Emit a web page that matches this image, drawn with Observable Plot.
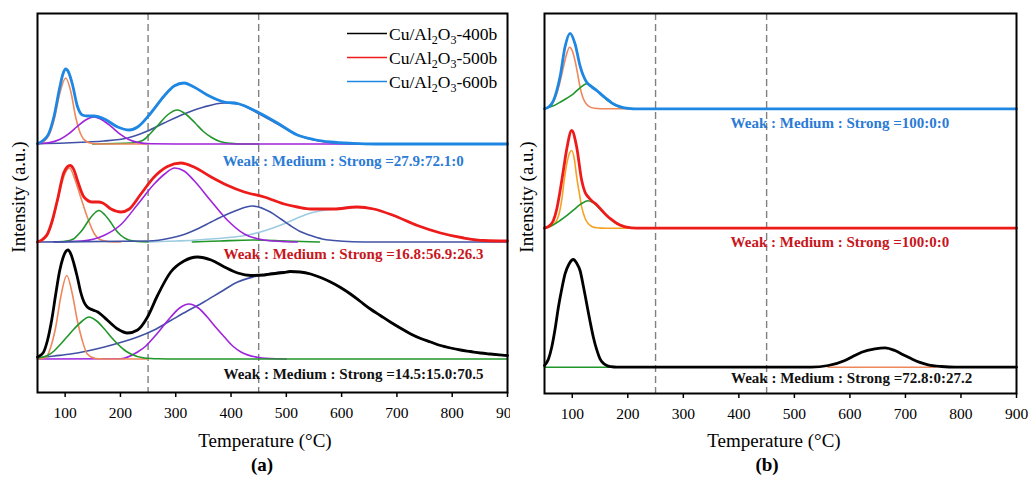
<!DOCTYPE html>
<html><head><meta charset="utf-8">
<script src="https://cdn.jsdelivr.net/npm/d3@7"></script>
<script src="https://cdn.jsdelivr.net/npm/@observablehq/plot@0.6"></script>
<style>
body{margin:0;background:#fff;}
#wrap{position:relative;width:1030px;height:477px;overflow:hidden;background:#fff;}
.panel{position:absolute;top:0;}
</style></head><body>
<div id="wrap"><div id="pa" class="panel" style="left:0px"></div><div id="pb" class="panel" style="left:510px"></div></div>
<script>
// ---------- tick values ----------
const xTicks = [100, 200, 300, 400, 500, 600, 700, 800, 900];
const dashTemps = [250, 450];

// ---------- panel (a): Cu/Al2O3-600b (blue) ----------
const a600Total = [[50,0.3],[60,3.5],[70,10],[80,28],[90,56],[96,70],[101,75],[106,72],[113,60],[122,38],[131,29],[140,28],[152,28],[171,25],[195,17],[216,14],[231,17],[255,31],[279,48],[297,58],[315,61],[333,57],[357,49],[388,42],[412,40.5],[448,32],[484,21],[520,9],[550,4.5],[580,2],[620,0.6],[660,0],[900,0]];
const a600Orange = [[50,0],[60,2],[70,8],[80,24],[90,50],[101,66],[110,53],[119,27],[128,10],[137,3],[150,0.5],[165,0],[250,0]];
const a600Purple = [[50,0.2],[70,1.2],[90,4.5],[105,9.6],[122,17.6],[137,24],[152,27],[167,24],[183,17.6],[200,9.6],[215,4.5],[231,1.6],[255,0.2],[300,0],[900,0]];
const a600Green = [[150,0],[220,1],[240,3.5],[255,11],[270,20],[285,29],[303,34],[320,29],[335,21],[350,12.5],[365,6.5],[380,2.5],[400,0.6],[420,0],[450,0]];
const a600Navy = [[50,0.3],[100,1],[140,2],[170,3],[213,6],[249,13],[279,21],[315,30],[351,37],[388,41],[412,40],[448,31],[484,20],[520,9],[550,4],[580,1.5],[620,0.4],[660,0]];

// ---------- panel (a): Cu/Al2O3-500b (red) ----------
const a500Total = [[50,0],[60,3],[68,8],[77,22],[86,42],[98,70],[109,76.5],[116,72],[122,62],[134,45],[149,40],[160,40],[168,39],[183,33],[201,30],[216,33],[237,48],[261,65],[285,75.5],[309,79],[333,75],[364,65],[394,56.5],[424,50],[460,45],[496,38],[520,35],[544,33],[586,33],[628,35],[658,33],[694,26.5],[737,16.5],[779,9],[821,4],[857,1.5],[900,1]];
const a500Orange = [[50,0],[60,2],[68,7],[77,20],[86,40],[98,66],[108,74],[118,62],[128,45],[140,25],[152,9],[165,2],[180,0.3],[200,0]];
const a500Green = [[80,0],[100,0.6],[115,3],[122,6.5],[131,12],[140,19.5],[150,27],[161,31.5],[172,27],[182,20],[191,12.5],[201,6.5],[215,2],[230,0.5],[250,0]];
const a500Purple = [[80,0.2],[130,1],[170,6.5],[201,17.5],[231,37.5],[261,58],[280,68],[298,74],[315,71],[333,61.5],[363,41.5],[394,21.5],[424,8],[460,2],[500,0.3],[520,0]];
const a500Navy = [[50,0],[250,1],[291,4],[315,7.5],[339,13],[364,20],[388,26.5],[412,32],[438,36],[471,30],[490,23],[507,16.5],[525,10.5],[544,6.5],[565,3],[586,1.5],[620,0.3],[660,0],[900,0]];
const a500LightBlue = [[250,0],[300,1],[339,2],[375,3.5],[412,5.5],[435,7.5],[465,12],[495,18],[520,24],[544,29],[565,31.5],[586,33],[616,35],[640,34.5],[658,33],[676,30],[694,26.5],[715,21.5],[737,16.5],[758,12.5],[779,9],[800,6],[821,4],[857,1.8],[900,1]];
const a500Green2 = [[330,0],[380,1],[440,2],[500,1],[560,0]];

// ---------- panel (a): Cu/Al2O3-400b (black) ----------
const a400Total = [[50,2],[60,6],[68,18.5],[76,40],[83,65],[90,88],[96,101],[105,109],[111,104],[116,95],[122,82],[128,67],[134,57],[140,52],[150,49],[159,47],[168,43],[177,38.5],[195,30],[213,26],[231,29],[249,42],[267,63.5],[291,87],[315,98],[339,102],[364,99],[388,92],[412,86],[436,83.5],[460,84],[471,85],[496,86.5],[507,87.5],[525,87],[544,85],[562,81.5],[580,77],[598,71.5],[616,65],[634,57.5],[652,50],[670,43.5],[688,37],[706,31],[725,25],[743,20.5],[761,17],[779,13.5],[797,11],[815,9],[833,7.5],[851,6],[869,5],[885,4.2],[900,3.5]];
const a400Orange = [[50,0],[65,1.5],[74,12],[83,32],[92,62],[103,83.5],[113,65],[122,38.5],[131,18.5],[140,5],[155,0.5],[170,0],[250,0]];
const a400Green = [[50,1],[68,3.5],[80,8],[92,15],[104,22.5],[116,30],[130,37.5],[143,42],[157,38],[171,30],[183,22],[195,15],[207,9],[219,5],[243,1],[270,0.2],[300,0],[900,0]];
const a400Purple = [[50,0],[200,0.3],[231,7],[246,13],[261,22],[276,32],[291,42],[307,51],[324,55],[341,51],[357,42],[372,32],[388,22],[403,13],[418,7],[450,1.5],[480,0.2],[500,0]];
const a400Navy = [[50,1],[80,3],[110,5],[140,8],[171,12],[200,16.5],[231,22],[261,29],[291,38.5],[321,48],[351,57],[381,67],[412,77],[440,82],[466,85],[490,87],[507,87.5],[525,87],[544,85],[562,81.5],[580,77],[598,71.5],[616,65],[634,57.5],[652,50],[670,43.5],[688,37],[706,31],[725,25],[743,20.5],[761,17],[779,13.5],[797,11],[815,9],[833,7.5],[851,6],[869,5],[885,4],[900,3.5]];

// ---------- panel (b) ----------
const b600Total = [[50,0],[58,2],[66,8],[72,18],[78,32],[87,62],[96,75.5],[105,65],[114,43],[120,33],[126,26.5],[135,22],[144,18.3],[153,14],[162,10],[171,6],[180,3.3],[190,1.5],[198,0.6],[210,0],[900,0]];
const b600Orange = [[50,0],[60,2.5],[66,7],[72,15],[78,27],[84,41.5],[90,55],[95,61.5],[100,58],[105,48],[110,34],[114,21.6],[118,13],[123,6.6],[130,2.5],[140,0.6],[160,0],[200,0]];
const b600Green = [[50,0.3],[66,3],[78,6.6],[90,10.5],[102,15],[114,21],[126,25],[138,21.5],[150,15.6],[159,10.5],[168,6.6],[177,3.5],[186,1.6],[200,0.4],[215,0]];
const b500Total = [[50,0],[60,3],[66,7.7],[72,19],[78,37],[84,58],[90,79],[99,97.7],[108,81],[117,47.7],[123,36],[129,31],[136,27],[144,23.5],[153,18],[162,12.7],[171,8.5],[180,5],[190,2.3],[198,1],[215,0],[900,0]];
const b500Orange = [[50,0],[60,1.5],[66,3.5],[72,7.7],[77,16],[81,28],[86,50],[90,64],[95,75],[99,77.7],[104,68],[108,51],[113,34],[117,21],[123,10],[129,4.4],[136,1.5],[144,0.5],[160,0],[200,0]];
const b500Green = [[50,0],[66,3.5],[78,7.7],[90,12.5],[102,18],[115,24],[128,27.5],[139,25],[150,19],[159,14],[168,9.4],[180,4.5],[192,1.7],[205,0.4],[220,0]];
const b400Total = [[50,1.7],[57,8],[63,20],[69,38],[75,60],[81,78],[87,93.4],[94,103],[102,107.7],[108,104],[114,96.7],[120,81],[126,63.4],[132,46],[138,30],[144,17.5],[150,8.4],[156,4],[162,1.7],[170,0.5],[180,0],[530,0],[561,1.7],[591,6.7],[606,11],[621,15],[645,18.4],[663,19.4],[681,16.7],[696,12.5],[711,8.4],[726,4.8],[741,2.4],[765,0.7],[790,0],[900,0]];
const b400Green = [[50,0],[110,0],[168,0]];
const b400Orange = [[561,0],[660,0],[753,0]];

// ---------- baseline offsets of each sample (a.u.) ----------
const offsetsA = {"400b": 33.5, "500b": 150.5, "600b": 248.5};
const offsetsB = {"400b": 26.3, "500b": 165.3, "600b": 284.7};

// ---------- ratio annotations ----------
const ratioTextsA = ["Weak : Medium : Strong =27.9:72.1:0", "Weak : Medium : Strong =16.8:56.9:26.3", "Weak : Medium : Strong =14.5:15.0:70.5"];
const ratioTextsB = ["Weak : Medium : Strong =100:0:0", "Weak : Medium : Strong =100:0:0", "Weak : Medium : Strong =72.8:0:27.2"];
const ratioSamples = ["600b", "500b", "400b"];
const ratioTempA = [603, 621.5, 621.5];
const ratioTempB = [582, 582, 603];
const ratioIntA = [231, 138, 18];
const ratioIntB = [270, 151, 15];

// ---------- legend ----------
const legendSamples = ["400b", "500b", "600b"];

// ---------- styles ----------
const colorKeys = ["tot400b","tot500b","tot600b","cOrange","cOrangeB","cGreen","cPurple","cNavy","cLightBlue"];
const colorRange = ["#000000","#EE1B1B","#1E86E3","#EF875C","#F6A124","#21962A","#9E24DC","#4152A6","#9DCBE2"];
const textColor = {"600b": "#2B7BD6", "500b": "#C8161D", "400b": "#111111"};

const seriesA = [
  ["600b","cNavy",a600Navy],["600b","cGreen",a600Green],["600b","cOrange",a600Orange],["600b","cPurple",a600Purple],
  ["500b","cGreen",a500Green2],["500b","cLightBlue",a500LightBlue],["500b","cOrange",a500Orange],["500b","cGreen",a500Green],["500b","cPurple",a500Purple],["500b","cNavy",a500Navy],
  ["400b","cNavy",a400Navy],["400b","cPurple",a400Purple],["400b","cOrange",a400Orange],["400b","cGreen",a400Green]
];
const totalsA = [["400b",a400Total],["500b",a500Total],["600b",a600Total]];
const seriesB = [
  ["600b","cOrange",b600Orange],["600b","cGreen",b600Green],
  ["500b","cOrangeB",b500Orange],["500b","cGreen",b500Green],
  ["400b","cGreen",b400Green],["400b","cOrange",b400Orange]
];
const totalsB = [["400b",b400Total],["500b",b500Total],["600b",b600Total]];

function rowsOf(series, offsets) {
  return series.flatMap(([s, c, pts], i) => pts.map(([t, h]) => ({T: t, I: h + offsets[s], key: s + c + i, comp: c})));
}
function totalRowsOf(totals, offsets) {
  return totals.flatMap(([s, pts]) => pts.map(([t, h]) => ({T: t, I: h + offsets[s], key: "tot" + s, comp: "tot" + s})));
}

function makePanel(opts) {
  const {width, marginLeft, marginRight, marginBottom, yMax, series, totals, offsets, texts, temps, ints} = opts;
  const labelMarks = texts.map((t, i) => Plot.text([{x: temps[i], y: ints[i], t}], {
    x: "x", y: "y", text: "t", fill: textColor[ratioSamples[i]], fontWeight: "bold", fontSize: 15, textAnchor: "middle"
  }));
  return Plot.plot({
    width, height: 477, marginLeft, marginRight, marginTop: 13, marginBottom,
    x: {domain: [50, 900]},
    y: {domain: [0, yMax], axis: null},
    color: {domain: colorKeys, range: colorRange},
    style: {fontFamily: "'Liberation Serif', 'Times New Roman', serif", fontSize: "15.5px", color: "black", background: "white", overflow: "visible"},
    marks: [
      Plot.ruleX(dashTemps, {stroke: "#808080", strokeWidth: 1.4, strokeDasharray: "7,4"}),
      Plot.line(rowsOf(series, offsets), {x: "T", y: "I", z: "key", stroke: "comp", strokeWidth: 1.6, curve: "monotone-x"}),
      Plot.line(totalRowsOf(totals, offsets), {x: "T", y: "I", z: "key", stroke: "comp", strokeWidth: 2.8, curve: "monotone-x"}),
      ...labelMarks,
      Plot.axisX({ticks: xTicks, tickSize: 5, tickPadding: 9, tickFormat: d => String(d), label: null, fontSize: 15.5, strokeWidth: 1.5}),
      Plot.frame({stroke: "black", strokeWidth: 2})
    ]
  });
}

function addTexts(svg, o) {
  const g = d3.select(svg).append("g").attr("font-family", "'Liberation Serif', 'Times New Roman', serif").attr("fill", "black").attr("text-anchor", "middle");
  g.append("text").attr("x", o.titleX).attr("y", 447).attr("font-size", 19).text("Temperature (°C)");
  g.append("text").attr("x", o.letterX).attr("y", 471).attr("font-size", 19).attr("font-weight", "bold").text(o.letter);
  g.append("text").attr("transform", `translate(${o.yLabX},197) rotate(-90)`).attr("font-size", 19).text("Intensity (a.u.)");
  return g;
}

const svgA = makePanel({width: 515, marginLeft: 37, marginRight: 8, marginBottom: 85, yMax: 379,
  series: seriesA, totals: totalsA, offsets: offsetsA, texts: ratioTextsA, temps: ratioTempA, ints: ratioIntA});
const svgB = makePanel({width: 520, marginLeft: 34, marginRight: 14, marginBottom: 84, yMax: 380,
  series: seriesB, totals: totalsB, offsets: offsetsB, texts: ratioTextsB, temps: ratioTempB, ints: ratioIntB});
document.getElementById("pa").appendChild(svgA);
document.getElementById("pb").appendChild(svgB);

addTexts(svgA, {titleX: 265, letterX: 262, letter: "(a)", yLabX: 25});
addTexts(svgB, {titleX: 264, letterX: 257, letter: "(b)", yLabX: 23});

// legend (panel a, upper right)
const lg = d3.select(svgA).append("g").attr("font-family", "'Liberation Serif', 'Times New Roman', serif").attr("font-size", 17.5).attr("text-anchor", "start").attr("fill", "black");
const legendColors = {"400b": colorRange[0], "500b": colorRange[1], "600b": colorRange[2]};
legendSamples.forEach((s, i) => {
  const yc = 33.5 + i * 24;
  lg.append("line").attr("x1", 347).attr("x2", 387).attr("y1", yc).attr("y2", yc).attr("stroke", legendColors[s]).attr("stroke-width", 1.5);
  const t = lg.append("text").attr("x", 389).attr("y", yc + 6);
  t.append("tspan").text("Cu/Al");
  t.append("tspan").attr("dy", 4).attr("font-size", 12).text("2");
  t.append("tspan").attr("dy", -4).text("O");
  t.append("tspan").attr("dy", 4).attr("font-size", 12).text("3");
  t.append("tspan").attr("dy", -4).text("-" + s);
});
</script>
</body></html>
